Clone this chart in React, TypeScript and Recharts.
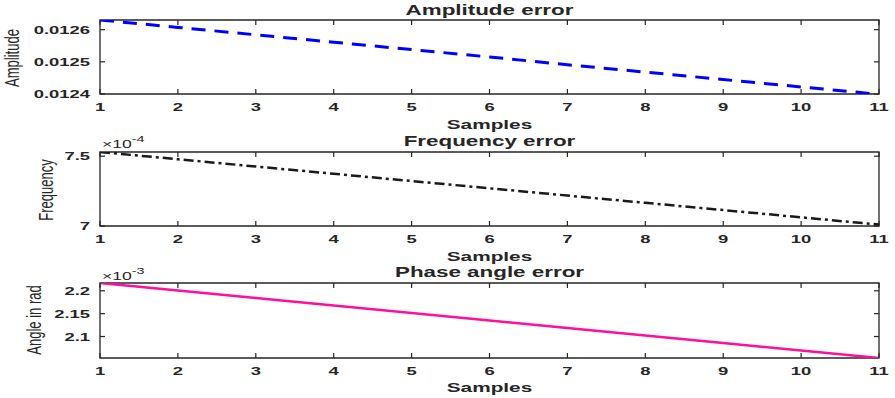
import React from 'react';
import { LineChart, Line, XAxis, YAxis, ReferenceArea } from 'recharts';

const samples = [1, 2, 3, 4, 5, 6, 7, 8, 9, 10, 11];
const amplitudeErr = [0.01263, 0.012607, 0.012584, 0.012561, 0.012538, 0.012515, 0.012491, 0.012468, 0.012445, 0.012422, 0.012399];
const frequencyErr = [7.53e-4, 7.478e-4, 7.426e-4, 7.374e-4, 7.322e-4, 7.27e-4, 7.218e-4, 7.166e-4, 7.114e-4, 7.062e-4, 7.01e-4];
const phaseErr = [2.217e-3, 2.2006e-3, 2.1842e-3, 2.1678e-3, 2.1514e-3, 2.135e-3, 2.1186e-3, 2.1022e-3, 2.0858e-3, 2.0694e-3, 2.053e-3];

const xTicks = [1, 2, 3, 4, 5, 6, 7, 8, 9, 10, 11];
const ampTicks = [0.0124, 0.0125, 0.0126];
const freqTicks = [7e-4, 7.5e-4];
const phaseTicks = [2.1e-3, 2.15e-3, 2.2e-3];

const ampDomain: [number, number] = [0.0124, 0.01263];
const freqDomain: [number, number] = [7e-4, 7.53e-4];
const phaseDomain: [number, number] = [2.053e-3, 2.217e-3];

const titles = ['Amplitude error', 'Frequency error', 'Phase angle error'];
const yLabels = ['Amplitude', 'Frequency', 'Angle in rad'];
const xLabel = 'Samples';

const FONT = 'Liberation Sans, Arial, sans-serif';
const INK = '#262626';
const SX = 1.6;
const PLOT_W = 779;
const TL = 5;

const build = (vals: number[]) => samples.map((s, i) => ({ s, v: vals[i] }));
const ampData = build(amplitudeErr);
const freqData = build(frequencyErr);
const phaseData = build(phaseErr);

const fmtAmp = (v: number) => v.toFixed(4);
const fmtFreq = (v: number) => String(Number((v * 1e4).toFixed(2)));
const fmtPhase = (v: number) => String(Number((v * 1e3).toFixed(3)));

const makeXTick = (plotH: number) => (props: any) => {
  const { x, y, payload } = props;
  return (
    <g>
      <line x1={x} y1={y} x2={x} y2={y - TL} stroke={INK} strokeWidth={1.2} />
      <line x1={x} y1={y - plotH} x2={x} y2={y - plotH + TL} stroke={INK} strokeWidth={1.2} />
      <text transform={`translate(${x},${y + 17}) scale(${SX},1)`} textAnchor="middle" fontFamily={FONT} fontSize={11.5} fontWeight="bold" fill={INK}>
        {String(payload.value)}
      </text>
    </g>
  );
};

const makeYTick = (fmt: (v: number) => string) => (props: any) => {
  const { x, y, payload } = props;
  return (
    <g>
      <line x1={x} y1={y} x2={x + TL} y2={y} stroke={INK} strokeWidth={1.2} />
      <line x1={x + PLOT_W} y1={y} x2={x + PLOT_W - TL} y2={y} stroke={INK} strokeWidth={1.2} />
      <text transform={`translate(${x - 10},${y + 4}) scale(${SX},1)`} textAnchor="end" fontFamily={FONT} fontSize={11.5} fontWeight="bold" fill={INK}>
        {fmt(payload.value)}
      </text>
    </g>
  );
};

const XT1 = makeXTick(74);
const XT2 = makeXTick(74);
const XT3 = makeXTick(75);
const YT1 = makeYTick(fmtAmp);
const YT2 = makeYTick(fmtFreq);
const YT3 = makeYTick(fmtPhase);

const m1 = { top: 20, right: 16, bottom: 6, left: 40 };
const m2 = { top: 22, right: 16, bottom: 4, left: 40 };
const m3 = { top: 21, right: 16, bottom: 10, left: 40 };

const xDomain: [number, number] = [1, 11];

function Panel1() {
  return (
    <LineChart width={895} height={130} data={ampData} margin={m1}>
      <XAxis dataKey="s" type="number" domain={xDomain} ticks={xTicks} interval={0} height={30} tickSize={0} tickMargin={0} tickLine={false} axisLine={false} tick={XT1} />
      <YAxis type="number" domain={ampDomain} ticks={ampTicks} interval={0} width={60} tickSize={0} tickMargin={0} tickLine={false} axisLine={false} tick={YT1} allowDataOverflow />
      <ReferenceArea x1={1} x2={11} y1={ampDomain[0]} y2={ampDomain[1]} fill="none" stroke={INK} strokeWidth={1.3} ifOverflow="visible" />
      <Line dataKey="v" type="linear" stroke="#0000ff" strokeWidth={3} strokeDasharray="14 9" dot={false} activeDot={false} isAnimationActive={false} />
    </LineChart>
  );
}

function Panel2() {
  return (
    <LineChart width={895} height={130} data={freqData} margin={m2}>
      <XAxis dataKey="s" type="number" domain={xDomain} ticks={xTicks} interval={0} height={30} tickSize={0} tickMargin={0} tickLine={false} axisLine={false} tick={XT2} />
      <YAxis type="number" domain={freqDomain} ticks={freqTicks} interval={0} width={60} tickSize={0} tickMargin={0} tickLine={false} axisLine={false} tick={YT2} allowDataOverflow />
      <ReferenceArea x1={1} x2={11} y1={freqDomain[0]} y2={freqDomain[1]} fill="none" stroke={INK} strokeWidth={1.3} ifOverflow="visible" />
      <Line dataKey="v" type="linear" stroke="#1a1a1a" strokeWidth={2.5} strokeDasharray="10 4 3 4" dot={false} activeDot={false} isAnimationActive={false} />
    </LineChart>
  );
}

function Panel3() {
  return (
    <LineChart width={895} height={136} data={phaseData} margin={m3}>
      <XAxis dataKey="s" type="number" domain={xDomain} ticks={xTicks} interval={0} height={30} tickSize={0} tickMargin={0} tickLine={false} axisLine={false} tick={XT3} />
      <YAxis type="number" domain={phaseDomain} ticks={phaseTicks} interval={0} width={60} tickSize={0} tickMargin={0} tickLine={false} axisLine={false} tick={YT3} allowDataOverflow />
      <ReferenceArea x1={1} x2={11} y1={phaseDomain[0]} y2={phaseDomain[1]} fill="none" stroke={INK} strokeWidth={1.3} ifOverflow="visible" />
      <Line dataKey="v" type="linear" stroke="#ff0f9b" strokeWidth={2.5} dot={false} activeDot={false} isAnimationActive={false} />
    </LineChart>
  );
}

const SText = (props: any) => (
  <text
    transform={`translate(${props.x},${props.y}) scale(${SX},1)${props.rotate ? ' rotate(-90)' : ''}`}
    textAnchor="middle"
    fontFamily={FONT}
    fontSize={props.size}
    fontWeight={props.bold ? 'bold' : 'normal'}
    fill={INK}
  >
    {props.children}
  </text>
);

export default function App() {
  const cx = 489.5;
  return (
    <div style={{ position: 'absolute', left: 0, top: 0, width: 895, height: 398, background: '#fff', overflow: 'hidden' }}>
      <div style={{ position: 'absolute', left: 0, top: 0 }}><Panel1 /></div>
      <div style={{ position: 'absolute', left: 0, top: 130 }}><Panel2 /></div>
      <div style={{ position: 'absolute', left: 0, top: 262 }}><Panel3 /></div>
      <svg width={895} height={398} style={{ position: 'absolute', left: 0, top: 0, pointerEvents: 'none' }}>
        <SText x={cx} y={15} size={14} bold>{titles[0]}</SText>
        <SText x={cx} y={146} size={14} bold>{titles[1]}</SText>
        <SText x={cx} y={277} size={14} bold>{titles[2]}</SText>
        <SText x={cx} y={129} size={13} bold>{xLabel}</SText>
        <SText x={cx} y={261} size={13} bold>{xLabel}</SText>
        <SText x={cx} y={392} size={13} bold>{xLabel}</SText>
        <SText x={19} y={58} size={13} rotate>{yLabels[0]}</SText>
        <SText x={53} y={190} size={13} rotate>{yLabels[1]}</SText>
        <SText x={41} y={320} size={13} rotate>{yLabels[2]}</SText>
        <text transform={`translate(102,148) scale(${SX},1)`} fontFamily={FONT} fontSize={11} fill={INK}>
          ×10<tspan dy={-6} fontSize={9}>-4</tspan>
        </text>
        <text transform={`translate(102,280) scale(${SX},1)`} fontFamily={FONT} fontSize={11} fill={INK}>
          ×10<tspan dy={-6} fontSize={9}>-3</tspan>
        </text>
      </svg>
    </div>
  );
}
